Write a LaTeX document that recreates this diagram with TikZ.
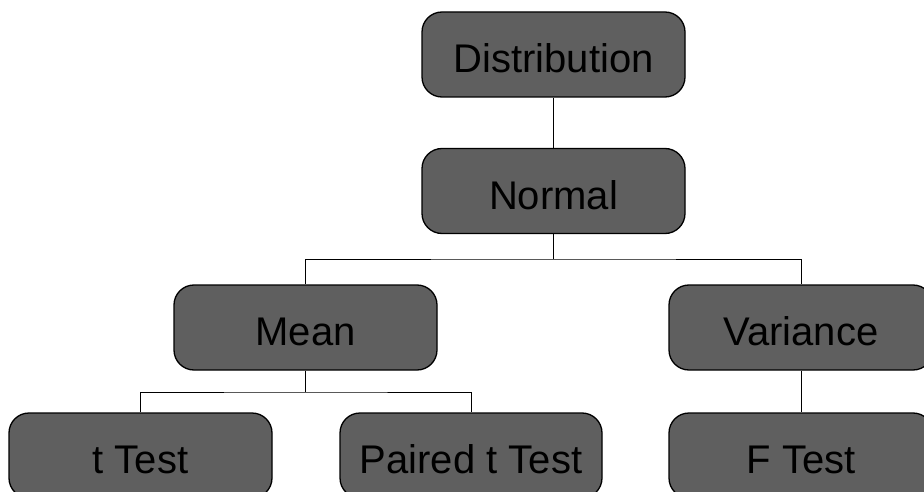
\documentclass[tikz,border=0pt]{standalone}
\usepackage{fontspec}
\setmainfont{Liberation Sans}
\definecolor{boxfill}{RGB}{95,95,95}
\begin{document}
\begin{tikzpicture}[x=1pt,y=-1pt,
  treebox/.style={draw=black, line width=1.3pt, fill=boxfill, rounded corners=20pt,
    minimum height=85pt, inner sep=0pt, text height=36pt, text depth=0pt,
    font=\fontsize{40}{48}\selectfont, text=black},
  link/.style={draw=black, line width=1pt}]
\useasboundingbox (0,0) rectangle (924,492);
\begin{scope}
\clip (0,0) rectangle (924,492);
% nodes of the tree
\node[treebox, minimum width=263pt] (dist)   at (553.5,54.5)  {Distribution};
\node[treebox, minimum width=263pt] (normal) at (553.5,191)   {Normal};
\node[treebox, minimum width=263pt] (mean)   at (305.5,327.5) {Mean};
\node[treebox, minimum width=264pt] (var)    at (801,327.5)   {Variance};
\node[treebox, minimum width=263pt] (ttest)  at (140.5,455.5) {t Test};
\node[treebox, minimum width=262pt] (paired) at (471,455.5)   {Paired t Test};
\node[treebox, minimum width=264pt] (ftest)  at (801,455.5)   {F Test};
% branching points
\coordinate (j1) at (553.5,259);
\coordinate (j2) at (305.5,392);
% connectors
\draw[link] (dist) -- (normal);
\draw[link] (normal.south) -- (j1);
\draw[link] (mean.north) |- (j1) -| (var.north);
\draw[link] (mean.south) -- (j2);
\draw[link] (ttest.north) |- (j2) -| (paired.north);
\draw[link] (var) -- (ftest);
\end{scope}
\end{tikzpicture}
\end{document}
